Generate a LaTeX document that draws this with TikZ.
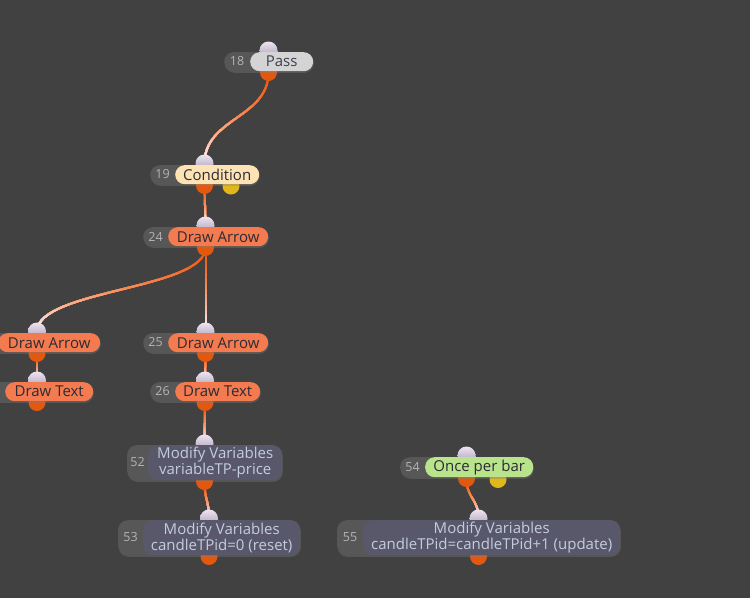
\documentclass[tikz,border=0pt]{standalone}
\usepackage{fontspec}
\setmainfont{Open Sans}
\usetikzlibrary{shadows,calc}
\definecolor{bg}{HTML}{414141}
\definecolor{numgray}{HTML}{575757}
\definecolor{numtext}{HTML}{B4B4B4}
\definecolor{passfill}{HTML}{D4D4D4}
\definecolor{passtext}{HTML}{3C4050}
\definecolor{condfill}{HTML}{FDE2B4}
\definecolor{darktext}{HTML}{2C2C34}
\definecolor{drawfill}{HTML}{F47A50}
\definecolor{oncefill}{HTML}{B9E48C}
\definecolor{mvfill}{HTML}{58586A}
\definecolor{mvtext}{HTML}{C4CCE0}
\definecolor{portlt}{HTML}{ECE4F0}
\definecolor{portdk}{HTML}{A898B4}
\definecolor{portor}{HTML}{E2580F}
\definecolor{portyl}{HTML}{E0B81C}
\definecolor{edgeor}{HTML}{EE5A12}
\definecolor{edgewh}{HTML}{FAF4F8}
\pgfdeclarelayer{bglayer}
\pgfdeclarelayer{edges}
\pgfdeclarelayer{ports}
\pgfsetlayers{bglayer,edges,ports,main}
\newcommand\mknode[9]{%
  \begin{pgfonlayer}{ports}
    \node[inport] (#1-in) at ({(#3+#5)/2},{#6-1.5}) {};
    \node[outport] (#1-out) at ({(#3+#5)/2},{#7+1.5}) {};
  \end{pgfonlayer}
  \node[numpill, minimum width={#5-#3}, minimum height={#7-#6}, anchor=north west] (#1-num) at (#3,#6) {};
  \node[numtxt] (#1-id) at ({(#3+#4)/2},{(#6+#7)/2}) {#2};
  \node[lblpill, #8, minimum width={#5-#4}, minimum height={#7-#6}, anchor=north west] (#1) at (#4,#6) {#9};
}
% connector with an orange-to-white gradient, built from overlapping horizontal bands
\newcommand\link[2]{%
  \foreach \i [evaluate=\i as \pc using {int(100*(\i/15)^1.5)}] in {0,...,15} {%
    \begin{scope}
      \clip let \p1=(#1.center),\p2=(#2.center),
        \n1={\y1+(\y2-\y1)*\i/16+(\i==0)*20pt} in
        (-50pt,\n1) rectangle (800pt,{\y2-20pt});
      \draw[edgeline, draw=edgewh!\pc!edgeor] let \p1=(#1.center),\p2=(#2.center),\n3={0.5*(\y1-\y2)} in
        (\p1) .. controls +(0pt,-\n3) and +(0pt,\n3) .. (\p2);
    \end{scope}}%
}
\begin{document}
\begin{tikzpicture}[x=1pt,y=-1pt,
  numpill/.style={rectangle, fill=numgray, inner sep=0pt, rounded corners=9.5pt,
    drop shadow={opacity=0.35, shadow xshift=0.6pt, shadow yshift=-1.6pt}},
  lblpill/.style={rectangle, inner sep=0pt, rounded corners=9.5pt, font=\fontsize{15}{16}\selectfont},
  numtxt/.style={inner sep=0pt, text=numtext, font=\fontsize{12.5}{14}\selectfont},
  inport/.style={circle, minimum size=18pt, inner sep=0pt, top color=portlt, bottom color=portdk, draw=none},
  outport/.style={circle, minimum size=17pt, inner sep=0pt, fill=portor},
  yport/.style={circle, minimum size=17pt, inner sep=0pt, fill=portyl},
  passst/.style={fill=passfill, text=passtext},
  condst/.style={fill=condfill, text=darktext},
  drawst/.style={fill=drawfill, text=darktext},
  oncest/.style={fill=oncefill, text=darktext},
  mvst/.style={fill=mvfill, text=mvtext, align=center, rounded corners=10pt},
  edgeline/.style={line width=2pt, draw=edgeor}]
\begin{pgfonlayer}{bglayer}
\fill[bg] (0,0) rectangle (750,598);
\end{pgfonlayer}
\useasboundingbox (0,0) rectangle (750,598);

\mknode{pass}{18}{224}{250}{313}{52}{71}{passst}{Pass}
\mknode{cond}{19}{150}{175}{259}{165}{184}{condst}{Condition}
\mknode{da24}{24}{143}{168}{268}{227}{246}{drawst}{Draw Arrow}
\mknode{daL}{}{-26}{-2}{100}{333}{352}{drawst}{Draw Arrow}
\mknode{dtL}{}{-19}{5}{93}{382}{401}{drawst}{Draw Text}
\mknode{da25}{25}{143}{168}{268}{333}{352}{drawst}{Draw Arrow}
\mknode{dt26}{26}{150}{175}{260}{382}{401}{drawst}{Draw Text}
\mknode{mv52}{52}{127}{148}{282}{445}{480}{mvst}{Modify Variables\\variableTP-price}
\mknode{mv53}{53}{118}{143}{300}{520}{555}{mvst}{Modify Variables\\candleTPid=0 (reset)}
\mknode{once}{54}{400}{425}{533}{457}{477}{oncest}{Once per bar}
\mknode{mv55}{55}{337}{363}{620}{520}{555}{mvst}{Modify Variables\\candleTPid=candleTPid+1 (update)}
\begin{pgfonlayer}{ports}
\node[yport] (cond-yes) at (231,186) {};
\node[yport] (once-yes) at (498,479.5) {};
\end{pgfonlayer}

\begin{pgfonlayer}{edges}
\link{pass-out}{cond-in}
\link{cond-out}{da24-in}
\link{da24-out}{daL-in}
\link{da24-out}{da25-in}
\link{daL-out}{dtL-in}
\link{da25-out}{dt26-in}
\link{dt26-out}{mv52-in}
\link{mv52-out}{mv53-in}
\link{once-out}{mv55-in}
\end{pgfonlayer}
\end{tikzpicture}
\end{document}
